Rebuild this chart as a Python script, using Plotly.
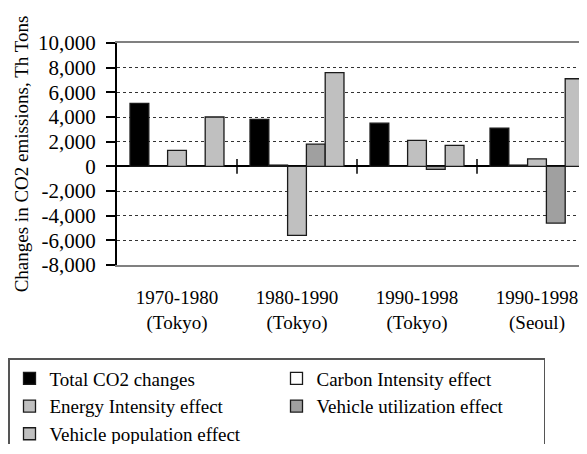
import plotly.graph_objects as go

periods = ["1970-1980<br>(Tokyo)", "1980-1990<br>(Tokyo)", "1990-1998<br>(Tokyo)", "1990-1998<br>(Seoul)"]
total_co2 = [5100, 3800, 3500, 3100]
carbon_intensity = [0, 100, 0, 100]
energy_intensity = [1300, -5600, 2100, 600]
vehicle_utilization = [0, 1800, -250, -4600]
vehicle_population = [4000, 7600, 1700, 7100]

y_ticks = [10000, 8000, 6000, 4000, 2000, 0, -2000, -4000, -6000, -8000]
y_ticktext = ["10,000", "8,000", "6,000", "4,000", "2,000", "0", "-2,000", "-4,000", "-6,000", "-8,000"]

series = [
    ("Total CO2 changes", total_co2, "#000000"),
    ("Carbon Intensity effect", carbon_intensity, "#FFFFFF"),
    ("Energy Intensity effect", energy_intensity, "#C0C0C0"),
    ("Vehicle utilization effect", vehicle_utilization, "#A0A0A0"),
    ("Vehicle population effect", vehicle_population, "#C0C0C0"),
]

xpos = list(range(len(periods)))
FONT = "Liberation Serif, Times New Roman, serif"

W, H = 571, 436
ML, MT = 109, 35
MB = H - 257
plot_h = H - MT - MB
plot_w = W - ML

fig = go.Figure()
for name, vals, color in series:
    fig.add_trace(go.Bar(
        x=xpos, y=vals, name=name,
        marker=dict(color=color, line=dict(color="#1a1a1a", width=1.3)),
    ))

# category separator ticks crossing the zero line
for b in [0.5, 1.5, 2.5]:
    fig.add_shape(type="line", xref="x", yref="y", x0=b, x1=b, y0=-600, y1=600,
                  line=dict(color="#000000", width=1.5))

fig.update_layout(
    width=W, height=H,
    margin=dict(l=ML, r=0, t=MT, b=MB, autoexpand=False),
    paper_bgcolor="white", plot_bgcolor="white",
    font=dict(family=FONT, size=19, color="black"),
    barmode="group", bargap=0.217, bargroupgap=0,
    showlegend=True,
    legend=dict(
        orientation="h", xref="paper", yref="paper",
        x=-ML / plot_w, y=-(350 - 257) / plot_h,
        xanchor="left", yanchor="top",
        entrywidth=222, entrywidthmode="pixels",
        bordercolor="#555555", borderwidth=1.5, bgcolor="white",
        font=dict(family=FONT, size=19, color="black"),
        traceorder="normal",
    ),
    xaxis=dict(
        range=[-0.5, -0.5 + 4 * plot_w / 480],
        tickvals=xpos, ticktext=periods, ticks="",
        showgrid=False, zeroline=False,
        showline=True, linecolor="#808080", linewidth=2, mirror=True,
        ticklabelstandoff=14,
        tickfont=dict(family=FONT, size=19, color="black"),
    ),
    yaxis=dict(
        range=[-8000, 10000],
        tickvals=y_ticks, ticktext=y_ticktext,
        ticks="outside", ticklen=9, tickwidth=1.5, tickcolor="black",
        showline=True, linecolor="black", linewidth=2, mirror=False,
        showgrid=True, gridcolor="#333333", griddash="dot", gridwidth=1,
        zeroline=True, zerolinecolor="black", zerolinewidth=1.5,
        ticklabelstandoff=6,
        tickfont=dict(family=FONT, size=21, color="black"),
        title=dict(text="Changes in CO2 emissions, Th Tons", standoff=4,
                   font=dict(family=FONT, size=19, color="black")),
    ),
)

fig.write_html("out.html")
